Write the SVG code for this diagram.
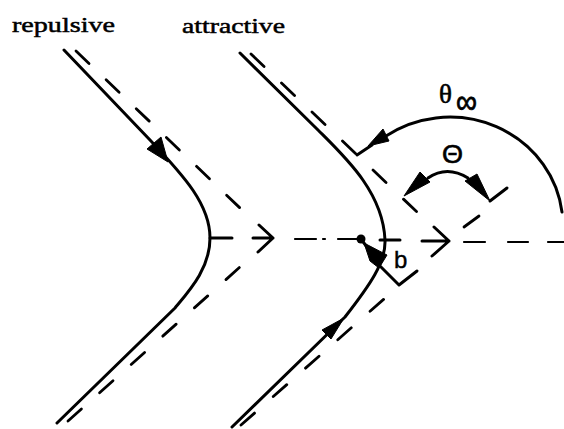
<svg xmlns="http://www.w3.org/2000/svg" width="564" height="429" viewBox="0 0 564 429">
<defs>
<style>
.s{fill:none;stroke:#000;stroke-width:3;stroke-linecap:round;stroke-linejoin:round}
.d{fill:none;stroke:#000;stroke-width:2.8;stroke-linecap:round}
.t{fill:none;stroke:#000;stroke-width:2.2;stroke-linecap:round}
.f{fill:#000;stroke:#000;stroke-width:1;stroke-linejoin:round}
.lbl{font-family:"Liberation Serif","Times New Roman",serif;font-size:22px;fill:#000;stroke:#000;stroke-width:0.5}
.sym{font-family:"Liberation Sans",Arial,sans-serif;fill:#000}
.ser{font-family:"Liberation Serif","Times New Roman",serif;fill:#000}
</style>
</defs>
<rect width="564" height="429" fill="#fff"/>

<g id="labels">
<text class="lbl" x="12" y="31.5" textLength="103" lengthAdjust="spacingAndGlyphs">repulsive</text>
<text class="lbl" x="182" y="32.5" textLength="103" lengthAdjust="spacingAndGlyphs">attractive</text>
</g>

<g id="repulsive">
<path class="s" d="M64,50 L150,140 C185,177 210,205 210,238 C210,268 190,290 175,308 L57,423"/>
<path class="d" d="M76,51 L240,208" stroke-dasharray="18 23.7"/>
<path class="d" d="M68,421 L240,267" stroke-dasharray="18 24.4"/>
<polygon class="f" points="168,162 147,149 161,137"/>
</g>

<g id="attractive">
<path class="s" d="M240,53 L318,130 C345,157 383,192 385,240 C386,262 370,285 345,317 L232,427"/>
<path class="d" d="M251,54 L417,212" stroke-dasharray="18 24.1"/>
<path class="d" d="M241,425 L384,299" stroke-dasharray="18 25"/>
<polygon class="f" points="344,318 331,339 322,330"/>
<path class="d" d="M464,227 L479,216"/>
</g>

<g id="axis">
<path class="s" d="M210,238 H232"/>
<path class="s" d="M253,238 H273 M259,225 L273,238 L258,252"/>
<path class="t" d="M295,239 H316 M323,239 H325 M338,239 H358"/>
<circle cx="361" cy="239" r="4.5" fill="#000"/>
<path class="s" d="M380,240 H400"/>
<path class="s" d="M422,241 H449 M434,227 L449,241 L432,256"/>
<path class="t" d="M464,242 H485 M508,242 H528 M548,242 H566"/>
</g>

<g id="impact-parameter">
<path class="s" d="M361,239 L375,258"/>
<polygon class="f" points="364,243 370,261 379,268 387,255"/>
<path class="s" d="M380,266 L399,285 L417,271"/>
<text class="sym" x="394" y="268" font-size="24" stroke="#000" stroke-width="0.4">b</text>
</g>

<g id="theta-inf">
<path class="s" d="M357,155 L372,145"/>
<polygon class="f" points="368,146 383,129 389,141"/>
<path class="s" d="M386,136 A113,108 0 0 1 562,212"/>
<text class="ser" x="439" y="103" font-size="27" stroke="#000" stroke-width="0.6">θ</text>
<text class="sym" x="456" y="113" font-size="34" textLength="21" lengthAdjust="spacingAndGlyphs" stroke="#000" stroke-width="0.8">∞</text>
</g>

<g id="Theta">
<path class="s" d="M428,178 Q447,165 468,178"/>
<polygon class="f" points="404,196 420,172 430,182"/>
<polygon class="f" points="490,201 465,181 477,174"/>
<path class="s" d="M490,201 L507,188"/>
<text class="sym" x="442" y="163" font-size="25" textLength="21" lengthAdjust="spacingAndGlyphs" stroke="#000" stroke-width="0.6">Θ</text>
</g>
</svg>
